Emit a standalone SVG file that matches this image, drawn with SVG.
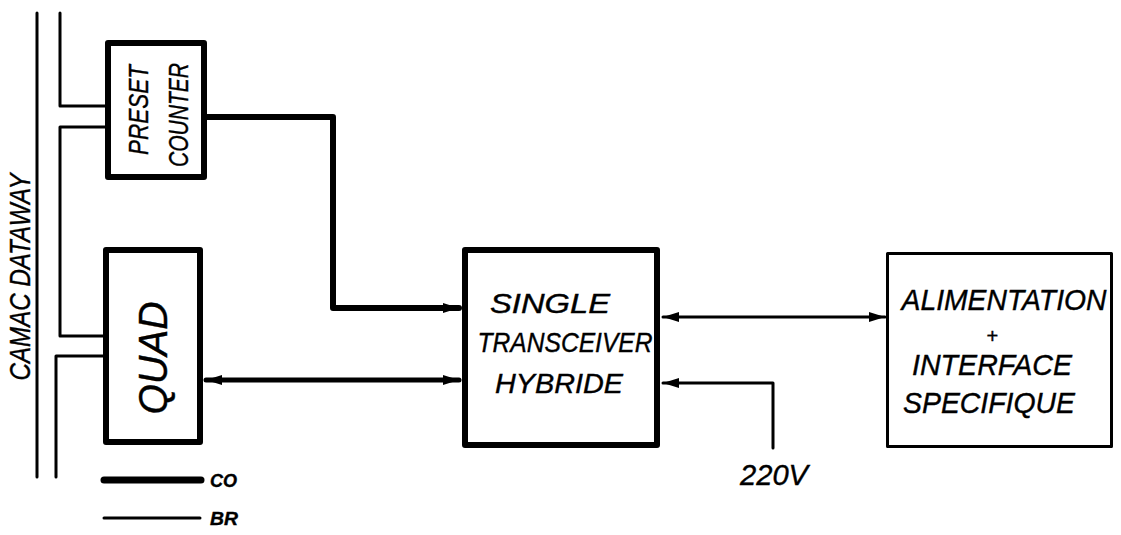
<svg xmlns="http://www.w3.org/2000/svg" width="1121" height="535" viewBox="0 0 1121 535">
<style>
.box{fill:#fff;stroke:#000;stroke-linejoin:round}
.thick{stroke-width:6}
.thin{stroke-width:3}
.ln{fill:none;stroke:#000;stroke-linejoin:round;stroke-linecap:round}
.t{font-family:"Liberation Sans",Arial,sans-serif;font-style:italic;fill:#000;stroke:#000;stroke-width:0.4}
</style>
<defs>
<marker id="ah" markerUnits="userSpaceOnUse" markerWidth="18" markerHeight="12" refX="16" refY="6" orient="auto-start-reverse">
<path d="M0,1 L16,6 L0,11 z" fill="#000"/>
</marker>
</defs>
<rect width="1121" height="535" fill="#fff"/>
<g id="connectors">
<path class="ln" stroke-width="3" d="M37,13 V477"/>
<path class="ln" stroke-width="3" d="M60,13 V106 H105"/>
<path class="ln" stroke-width="3" d="M105,127 H60 V336 H105"/>
<path class="ln" stroke-width="3" d="M105,356 H56 V477"/>
<path class="ln" stroke-width="6" d="M207,117 H333 V308 H459" marker-end="url(#ah)"/>
<path class="ln" stroke-width="5" d="M206,380 H459" marker-start="url(#ah)" marker-end="url(#ah)"/>
<path class="ln" stroke-width="3" d="M663,317 H885" marker-start="url(#ah)" marker-end="url(#ah)"/>
<path class="ln" stroke-width="3" d="M773,448 V383 H663" marker-end="url(#ah)"/>
</g>
<text class="t" transform="translate(30,277) rotate(-90)" text-anchor="middle" font-size="29" textLength="207" lengthAdjust="spacingAndGlyphs">CAMAC  DATAWAY</text>
<g id="preset">
<rect class="box thick" x="108" y="43" width="96" height="134"/>
<text class="t" transform="translate(148,110) rotate(-90)" text-anchor="middle" font-size="27" textLength="90" lengthAdjust="spacingAndGlyphs">PRESET</text>
<text class="t" transform="translate(188,115) rotate(-90)" text-anchor="middle" font-size="27" textLength="104" lengthAdjust="spacingAndGlyphs">COUNTER</text>
</g>
<g id="quad">
<rect class="box thick" x="106" y="250" width="94" height="192"/>
<text class="t" transform="translate(167,358) rotate(-90)" text-anchor="middle" font-size="41" textLength="113" lengthAdjust="spacingAndGlyphs">QUAD</text>
</g>
<g id="single">
<rect class="box thick" x="465" y="250" width="192" height="195"/>
<text class="t" x="550" y="313" text-anchor="middle" font-size="28" textLength="120" lengthAdjust="spacingAndGlyphs">SINGLE</text>
<text class="t" x="565" y="352" text-anchor="middle" font-size="28" textLength="175" lengthAdjust="spacingAndGlyphs">TRANSCEIVER</text>
<text class="t" x="559" y="393" text-anchor="middle" font-size="28" textLength="128" lengthAdjust="spacingAndGlyphs">HYBRIDE</text>
</g>
<g id="alimentation">
<rect class="box thin" x="887.5" y="253.5" width="224" height="193"/>
<text class="t" x="1004" y="310" text-anchor="middle" font-size="30" textLength="205" lengthAdjust="spacingAndGlyphs">ALIMENTATION</text>
<text class="t" x="992" y="343" text-anchor="middle" font-size="20">+</text>
<text class="t" x="992" y="375" text-anchor="middle" font-size="30" textLength="160" lengthAdjust="spacingAndGlyphs">INTERFACE</text>
<text class="t" x="989" y="413" text-anchor="middle" font-size="30" textLength="172" lengthAdjust="spacingAndGlyphs">SPECIFIQUE</text>
</g>
<g id="v220">
<text class="t" x="774" y="485" text-anchor="middle" font-size="30" textLength="68" lengthAdjust="spacingAndGlyphs">220V</text>
</g>
<g id="legend">
<path class="ln" stroke-width="7" d="M104,480 H201"/>
<path class="ln" stroke-width="3" d="M104,518 H200"/>
<text class="t" x="210" y="487" font-size="19" font-weight="bold" textLength="27" lengthAdjust="spacingAndGlyphs">CO</text>
<text class="t" x="210" y="525" font-size="19" font-weight="bold" textLength="28" lengthAdjust="spacingAndGlyphs">BR</text>
</g>
</svg>
